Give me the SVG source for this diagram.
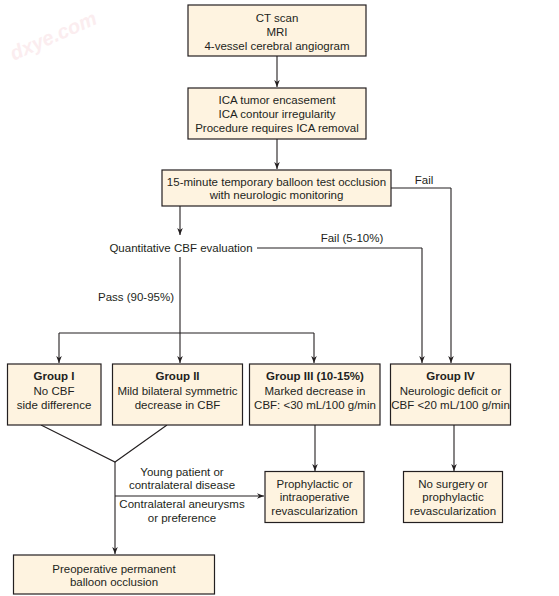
<svg xmlns="http://www.w3.org/2000/svg" width="559" height="596" viewBox="0 0 559 596">
<defs>
<marker id="ah" viewBox="0 0 10 10" refX="10" refY="5" markerWidth="7" markerHeight="7" orient="auto" markerUnits="userSpaceOnUse">
<path d="M0,1 L10,5 L0,9 L3,5 Z" fill="#231f20"/>
</marker>
<style>
.box{fill:#fef3e0;stroke:#231f20;stroke-width:1.2}
.t{font-family:"Liberation Sans",Arial,sans-serif;font-size:11.5px;fill:#231f20;text-anchor:middle;dominant-baseline:central}
.b{font-weight:bold}
.c{fill:none;stroke:#231f20;stroke-width:1.1}
.a{marker-end:url(#ah)}
</style>
</defs>
<rect width="559" height="596" fill="#ffffff"/>
<text x="56" y="42" transform="rotate(-24 56 42)" style="font-family:'Liberation Sans',Arial,sans-serif;font-size:20px;font-weight:bold;font-style:italic;fill:#fbedef;text-anchor:middle">dxye.com</text>

<g id="connectors">
<path class="c a" d="M277,56 V87"/>
<path class="c a" d="M277,139 V169"/>
<path class="c" d="M391,188 H451"/>
<path class="c a" d="M451,188 V363"/>
<path class="c a" d="M180,206 V235"/>
<path class="c" d="M257,248 H422"/>
<path class="c a" d="M422,248 V363"/>
<path class="c a" d="M180,257 V363"/>
<path class="c" d="M59,333 H314"/>
<path class="c a" d="M59,333 V363"/>
<path class="c a" d="M314,333 V363"/>
<path class="c" d="M41,425 L115,462 L167,425"/>
<path class="c a" d="M115,462 V554"/>
<path class="c a" d="M115,496 H264"/>
<path class="c a" d="M315,425 V471"/>
<path class="c a" d="M454,425 V471"/>
</g>

<g id="lbl-fail"><text class="t" x="424" y="180">Fail</text></g>
<g id="lbl-fail2"><text class="t" x="352" y="238">Fail (5-10%)</text></g>
<g id="lbl-pass"><text class="t" x="136" y="297">Pass (90-95%)</text></g>
<g id="lbl-young"><text class="t" x="182" y="472">Young patient or</text><text class="t" x="182" y="485">contralateral disease</text></g>
<g id="lbl-contra"><text class="t" x="182" y="504">Contralateral aneurysms</text><text class="t" x="182" y="518">or preference</text></g>

<g id="n-imaging">
<rect class="box" x="188" y="5" width="178" height="51"/>
<text class="t" x="277" y="17.5">CT scan</text>
<text class="t" x="277" y="31.5">MRI</text>
<text class="t" x="277" y="45.5">4-vessel cerebral angiogram</text>
</g>
<g id="n-ica">
<rect class="box" x="188" y="88" width="178" height="51"/>
<text class="t" x="277" y="99.5">ICA tumor encasement</text>
<text class="t" x="277" y="113.5">ICA contour irregularity</text>
<text class="t" x="277" y="127.5">Procedure requires ICA removal</text>
</g>
<g id="n-bto">
<rect class="box" x="162" y="170" width="229" height="36"/>
<text class="t" x="276.5" y="181.5">15-minute temporary balloon test occlusion</text>
<text class="t" x="276.5" y="195">with neurologic monitoring</text>
</g>
<g id="n-cbf">
<text class="t" x="181" y="248">Quantitative CBF evaluation</text>
</g>
<g id="n-g1">
<rect class="box" x="7.5" y="364" width="93.5" height="61"/>
<text class="t b" x="54" y="376">Group I</text>
<text class="t" x="54" y="390.5">No CBF</text>
<text class="t" x="54" y="405">side difference</text>
</g>
<g id="n-g2">
<rect class="box" x="112.5" y="364" width="130" height="61"/>
<text class="t b" x="177.5" y="376">Group II</text>
<text class="t" x="177.5" y="390.5">Mild bilateral symmetric</text>
<text class="t" x="177.5" y="405">decrease in CBF</text>
</g>
<g id="n-g3">
<rect class="box" x="249.5" y="364" width="130.5" height="61"/>
<text class="t b" x="315" y="376">Group III (10-15%)</text>
<text class="t" x="315" y="390.5">Marked decrease in</text>
<text class="t" x="315" y="405">CBF: &lt;30 mL/100 g/min</text>
</g>
<g id="n-g4">
<rect class="box" x="390.5" y="364" width="120" height="61"/>
<text class="t b" x="450.5" y="376">Group IV</text>
<text class="t" x="450.5" y="390.5">Neurologic deficit or</text>
<text class="t" x="450.5" y="405">CBF &lt;20 mL/100 g/min</text>
</g>
<g id="n-proph">
<rect class="box" x="265" y="471.5" width="99" height="51"/>
<text class="t" x="314.5" y="483.5">Prophylactic or</text>
<text class="t" x="314.5" y="497">intraoperative</text>
<text class="t" x="314.5" y="510.5">revascularization</text>
</g>
<g id="n-nosurg">
<rect class="box" x="403.5" y="471.5" width="99" height="51"/>
<text class="t" x="453" y="483.5">No surgery or</text>
<text class="t" x="453" y="497">prophylactic</text>
<text class="t" x="453" y="510.5">revascularization</text>
</g>
<g id="n-preop">
<rect class="box" x="13.5" y="555" width="201" height="39"/>
<text class="t" x="114" y="568.5">Preoperative permanent</text>
<text class="t" x="114" y="582">balloon occlusion</text>
</g>
</svg>
